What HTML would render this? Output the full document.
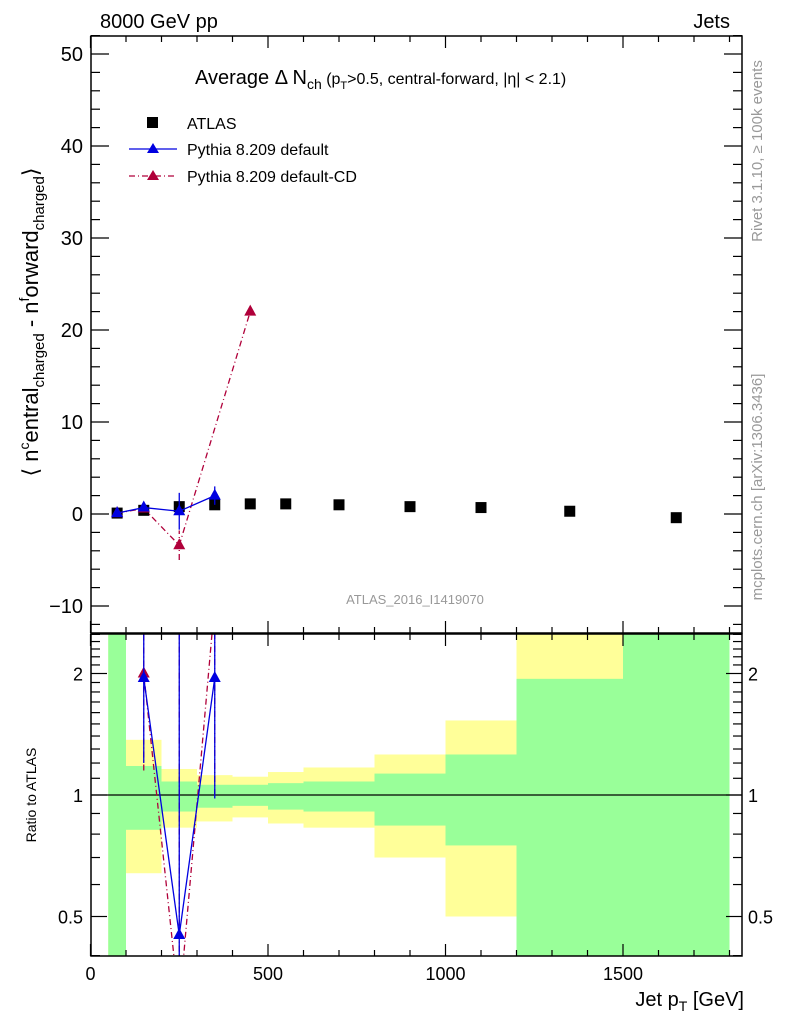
<!DOCTYPE html>
<html><head><meta charset="utf-8"><style>
html,body{margin:0;background:#fff;overflow:hidden;width:786px;height:1024px}
svg{display:block}
svg text{font-family:"Liberation Sans",sans-serif}
</style></head><body>
<svg id="c" width="786" height="1024" xmlns="http://www.w3.org/2000/svg">
<g id="bands"></g><g id="marks"></g><g id="axes"></g>
<text x="100" y="28" font-size="20">8000 GeV pp</text>
<text x="730" y="28" font-size="20" text-anchor="end">Jets</text>
<text x="195" y="84" font-size="20">Average Δ N<tspan font-size="14" dy="5">ch</tspan><tspan dy="-5" font-size="16"> (p</tspan><tspan font-size="11" dy="5">T</tspan><tspan dy="-5" font-size="16">&gt;0.5, central-forward, |η| &lt; 2.1)</tspan></text>
<g>
<rect x="147" y="117" width="11" height="11" fill="#000"/>
<text x="187" y="129" font-size="16">ATLAS</text>
<line x1="129" y1="149" x2="177" y2="149" stroke="#0000e0" stroke-width="1.3"/>
<polygon points="153,143 147,153 159,153" fill="#0000e0"/>
<text x="187" y="155" font-size="16">Pythia 8.209 default</text>
<line x1="129" y1="176" x2="177" y2="176" stroke="#b0003a" stroke-width="1.3" stroke-dasharray="6,3,1,3"/>
<polygon points="153,170 147,180 159,180" fill="#b0003a"/>
<text x="187" y="182" font-size="16">Pythia 8.209 default-CD</text>
</g>
<text x="415" y="604" font-size="13" fill="#999" text-anchor="middle">ATLAS_2016_I1419070</text>
<text transform="translate(762,151) rotate(-90)" font-size="15" fill="#999" text-anchor="middle">Rivet 3.1.10, ≥ 100k events</text>
<text transform="translate(762,487) rotate(-90)" font-size="15" fill="#999" text-anchor="middle">mcplots.cern.ch [arXiv:1306.3436]</text>
<text transform="translate(38,322) rotate(-90)" font-size="22" text-anchor="middle">⟨ n<tspan font-size="14" dy="-9">c</tspan><tspan dy="9">entral</tspan><tspan font-size="15" dy="6">charged</tspan><tspan dy="-6"> - n</tspan><tspan font-size="14" dy="-9">f</tspan><tspan dy="9">orward</tspan><tspan font-size="15" dy="6">charged</tspan><tspan dy="-6">⟩</tspan></text>
<text transform="translate(36,795) rotate(-90)" font-size="14" text-anchor="middle">Ratio to ATLAS</text>
<text x="744" y="1006" font-size="20" text-anchor="end">Jet p<tspan font-size="14" dy="5">T</tspan><tspan dy="-5"> [GeV]</tspan></text>
</svg>
<script>
const binEdges=[50,100,200,300,400,500,600,800,1000,1200,1500,1800];
const atlasX=[75,150,250,350,450,550,700,900,1100,1350,1650];
const atlasY=[0.1,0.4,0.8,1.0,1.1,1.1,1.0,0.8,0.7,0.3,-0.4];
const defX=[75,150,250,350];
const defY=[0.1,0.7,0.3,2.0];
const defErr=[0.2,0.3,2.0,1.0];
const cdX=[75,150,250,450];
const cdY=[0.1,0.6,-3.4,22];
const cdErr=[0.2,0.3,1.6,0.3];
const greenLo=[0.1,0.82,0.91,0.93,0.94,0.92,0.91,0.84,0.75,0.1,0.1];
const greenHi=[9,1.18,1.08,1.06,1.06,1.07,1.08,1.13,1.26,1.94,9];
const yellowLo=[0.1,0.64,0.83,0.86,0.88,0.85,0.83,0.70,0.50,0.1,0.1];
const yellowHi=[9,1.37,1.16,1.12,1.11,1.14,1.17,1.26,1.53,9,9];
const rDefX=[150,250,350];
const rDefY=[1.95,0.45,1.95];
const rDefLo=[1.2,0.1,0.98];
const rDefHi=[9,9,9];
const rCdX=[150,250,350];
const rCdY=[2.0,0.3,3.0];
const rCdLo=[1.15,0.1,1.0];
const xTicksMajor=[0,500,1000,1500];
const yTicksMain=[-10,0,10,20,30,40,50];
const rTicks=[0.5,1,2];

const NS="http://www.w3.org/2000/svg";
const L=91,R=742,T=36,B=633,RT=634,RB=956;
const X=v=>90.5+v*0.355;
const Y=v=>514-v*9.2;
const RY=v=>795-Math.log2(v)*121.5;
function mk(p,t,a){const e=document.createElementNS(NS,t);for(const k in a)e.setAttribute(k,a[k]);p.appendChild(e);return e;}
const bands=document.getElementById('bands'),marks=document.getElementById('marks'),axes=document.getElementById('axes');
const cl=v=>Math.max(RT,Math.min(RB,v));
for(let i=0;i<binEdges.length-1;i++){
 const x1=X(binEdges[i]),x2=X(binEdges[i+1]);
 let r=mk(bands,'rect',{x:x1,y:cl(RY(yellowHi[i])),width:x2-x1,height:cl(RY(yellowLo[i]))-cl(RY(yellowHi[i])),fill:'#ffff99'});
 
 
 r=mk(bands,'rect',{x:x1,y:cl(RY(greenHi[i])),width:x2-x1,height:cl(RY(greenLo[i]))-cl(RY(greenHi[i])),fill:'#99ff99'});
 
 
}
mk(marks,'line',{x1:L,y1:RY(1),x2:R,y2:RY(1),stroke:'#000','stroke-width':1.2});
const defs=mk(marks,'defs',{});
const c1=mk(defs,'clipPath',{id:'cm'});mk(c1,'rect',{x:L,y:T,width:R-L,height:B-T});
const c2=mk(defs,'clipPath',{id:'cr'});mk(c2,'rect',{x:L,y:RT,width:R-L,height:RB-RT});
const gm=mk(marks,'g',{'clip-path':'url(#cm)'}),gr=mk(marks,'g',{'clip-path':'url(#cr)'});
atlasX.forEach((x,i)=>{const r=mk(gm,'rect',{x:X(x)-5.5,y:Y(atlasY[i])-5.5,width:11,height:11,fill:'#000'});
 
 });
function tri(g,x,y,c){return mk(g,'polygon',{points:`${x},${y-7} ${x-6},${y+4} ${x+6},${y+4}`,fill:c});}
function series(g,xs,ys,c,dash,yf,lo,hi,name){
 const pl=mk(g,'polyline',{points:xs.map((x,i)=>X(x)+','+yf(ys[i])).join(' '),fill:'none',stroke:c,'stroke-width':1.3});
 if(dash)pl.setAttribute('stroke-dasharray','6,3,1,3');
 
 
 xs.forEach((x,i)=>{
  const l=mk(g,'line',{x1:X(x),x2:X(x),y1:yf(lo[i]),y2:yf(hi[i]),stroke:c,'stroke-width':1.3});
  if(dash)l.setAttribute('stroke-dasharray','6,3,1,3');
  const t=tri(g,X(x),yf(ys[i]),c);
  
  
 });
}
series(gm,cdX,cdY,'#b0003a',true,Y,cdY.map((v,i)=>v-cdErr[i]),cdY.map((v,i)=>v+cdErr[i]),'cd');
series(gm,defX,defY,'#0000e0',false,Y,defY.map((v,i)=>v-defErr[i]),defY.map((v,i)=>v+defErr[i]),'default');
series(gr,rCdX,rCdY,'#b0003a',true,RY,rCdLo,rCdY.map(()=>9),'ratio-cd');
series(gr,rDefX,rDefY,'#0000e0',false,RY,rDefLo,rDefHi,'ratio-default');
[[T,B],[RT,RB]].forEach(([a,b])=>mk(axes,'rect',{x:L,y:a,width:R-L,height:b-a,fill:'none',stroke:'#000','stroke-width':1.5}));
const tk=(x1,y1,x2,y2)=>mk(axes,'line',{x1,y1,x2,y2,stroke:'#000','stroke-width':1.2});
for(let v=0;v<=1800;v+=100){const x=X(v),big=v%500==0,h=big?12:6;
 tk(x,B,x,B-h);tk(x,T,x,T+h);tk(x,RB,x,RB-h);tk(x,RT,x,RT+h);}
xTicksMajor.forEach(v=>{const t=mk(axes,'text',{x:X(v),y:980,'font-size':18,'text-anchor':'middle'});t.textContent=v;
 
 });
for(let v=-12;v<=52;v+=2){const y=Y(v),big=v%10==0,h=big?18:9;tk(L,y,L+h,y);tk(R,y,R-h,y);}
yTicksMain.forEach(v=>{const t=mk(axes,'text',{x:83,y:Y(v)+7,'font-size':20,'text-anchor':'end'});t.textContent=v==-10?'−10':v;
 
 });
[0.4,0.5,0.6,0.7,0.8,0.9,1,1.1,1.2,1.3,1.4,1.5,1.6,1.7,1.8,1.9,2,2.1,2.2,2.3,2.4,2.5].forEach(v=>{const y=RY(v);if(y<RT)return;const big=rTicks.includes(v),h=big?16:9;tk(L,y,L+h,y);tk(R,y,R-h,y);});
rTicks.forEach(v=>{let t=mk(axes,'text',{x:83,y:RY(v)+7,'font-size':18,'text-anchor':'end'});t.textContent=v;
 
 
 t=mk(axes,'text',{x:748,y:RY(v)+7,'font-size':18});t.textContent=v;
 
 });
</script>
</body></html>
